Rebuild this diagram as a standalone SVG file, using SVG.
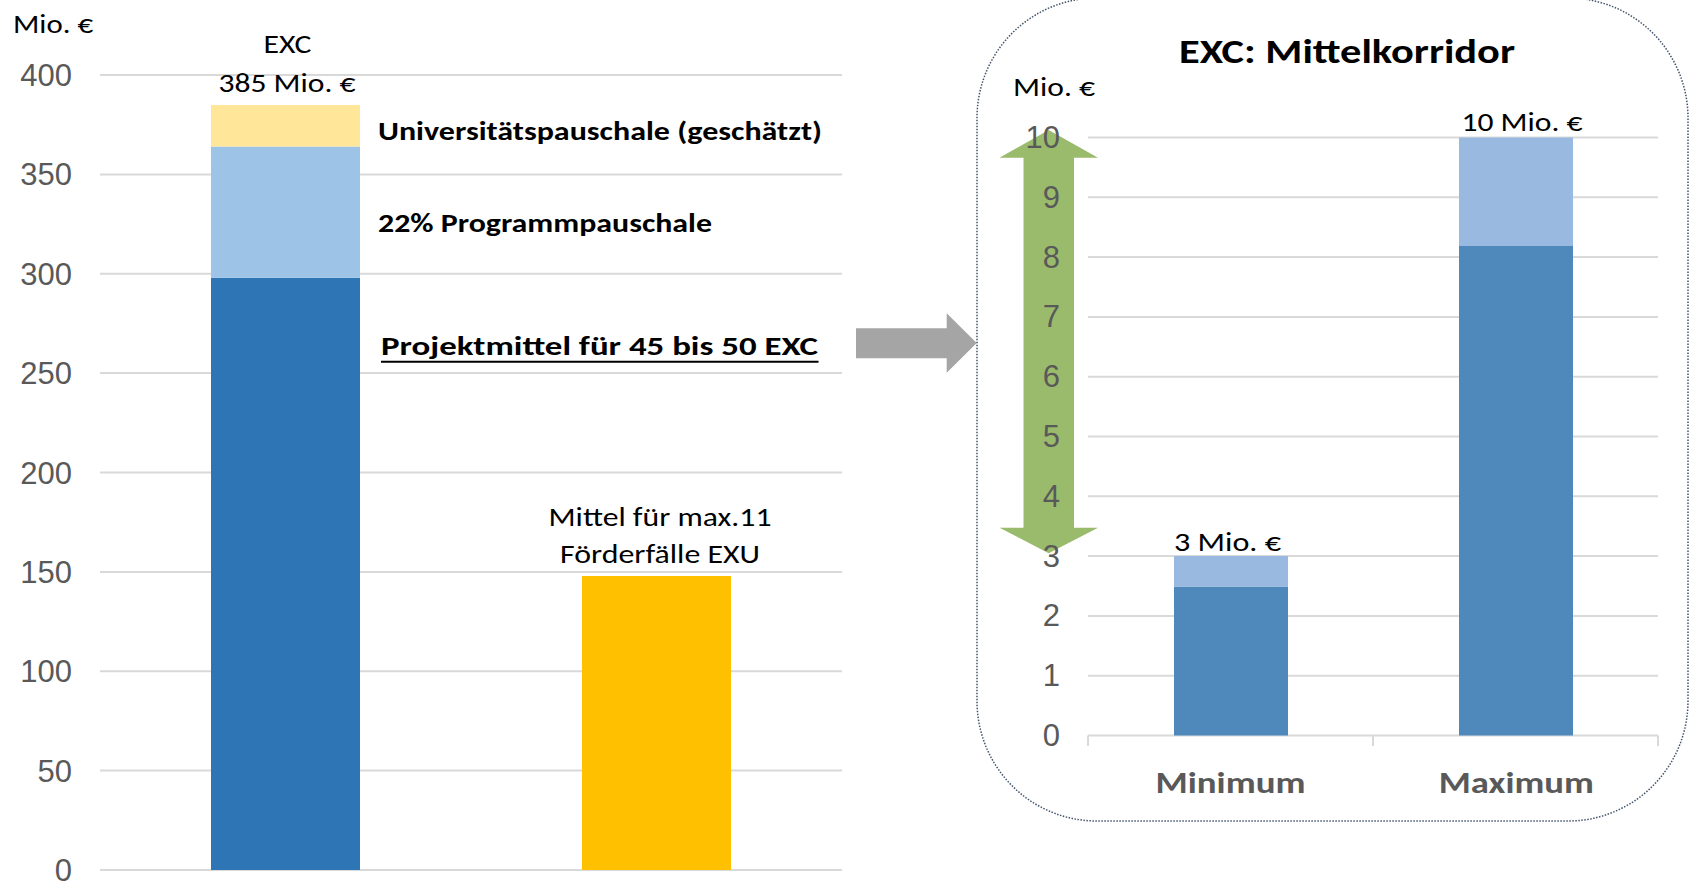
<svg xmlns="http://www.w3.org/2000/svg" width="1690" height="881" viewBox="0 0 1690 881">
  <style>
    .grid { stroke: #D9D9D9; stroke-width: 2; fill: none; }
    .tick { font-family: "Liberation Sans", Arial, sans-serif; font-size: 31px; fill: #595959; text-anchor: end; }
    .lbl { font-family: Carlito, Lato, "Liberation Sans", sans-serif; font-size: 27px; fill: #000000; }
    .lblb { font-family: Carlito, Lato, "Liberation Sans", sans-serif; font-size: 27px; font-weight: bold; fill: #000000; }
    .mid { text-anchor: middle; }
    .cat { font-family: Carlito, Lato, "Liberation Sans", sans-serif; font-size: 30px; font-weight: bold; fill: #595959; text-anchor: middle; }
    .title { font-family: Carlito, Lato, "Liberation Sans", sans-serif; font-size: 35px; font-weight: bold; fill: #000000; text-anchor: middle; }
  </style>
  <rect x="0" y="0" width="1690" height="881" fill="#FFFFFF"/>

  <!-- Left chart: total funding -->
  <g id="left-axis">
    <text class="lbl" x="13" y="33" textLength="80" lengthAdjust="spacingAndGlyphs">Mio. €</text>
    <line class="grid" x1="100" y1="870" x2="842" y2="870"/>
    <line class="grid" x1="100" y1="770.6" x2="842" y2="770.6"/>
    <line class="grid" x1="100" y1="671.3" x2="842" y2="671.3"/>
    <line class="grid" x1="100" y1="571.9" x2="842" y2="571.9"/>
    <line class="grid" x1="100" y1="472.5" x2="842" y2="472.5"/>
    <line class="grid" x1="100" y1="373.1" x2="842" y2="373.1"/>
    <line class="grid" x1="100" y1="273.8" x2="842" y2="273.8"/>
    <line class="grid" x1="100" y1="174.4" x2="842" y2="174.4"/>
    <line class="grid" x1="100" y1="75" x2="842" y2="75"/>
    <text class="tick" x="72" y="881">0</text>
    <text class="tick" x="72" y="781.6">50</text>
    <text class="tick" x="72" y="682.3">100</text>
    <text class="tick" x="72" y="582.9">150</text>
    <text class="tick" x="72" y="483.5">200</text>
    <text class="tick" x="72" y="384.1">250</text>
    <text class="tick" x="72" y="284.8">300</text>
    <text class="tick" x="72" y="185.4">350</text>
    <text class="tick" x="72" y="86">400</text>
  </g>

  <g id="bar-exc">
    <rect x="211" y="277.7" width="149" height="592.3" fill="#2E75B6"/>
    <rect x="211" y="146.5" width="149" height="131.2" fill="#9DC3E6"/>
    <rect x="211" y="105" width="149" height="41.5" fill="#FFE699"/>
    <text class="lbl mid" x="287.5" y="53" textLength="48" lengthAdjust="spacingAndGlyphs">EXC</text>
    <text class="lbl mid" x="287" y="91.5" textLength="137" lengthAdjust="spacingAndGlyphs">385 Mio. €</text>
  </g>

  <g id="exc-parts">
    <text class="lblb" x="378" y="140" textLength="444" lengthAdjust="spacingAndGlyphs">Universitätspauschale (geschätzt)</text>
    <text class="lblb" x="378" y="231.5" textLength="334" lengthAdjust="spacingAndGlyphs">22% Programmpauschale</text>
    <text class="lblb" x="381" y="355" textLength="437" lengthAdjust="spacingAndGlyphs">Projektmittel für 45 bis 50 EXC</text>
    <line x1="381" y1="361.7" x2="818.5" y2="361.7" stroke="#000000" stroke-width="2"/>
  </g>

  <g id="bar-exu">
    <rect x="582" y="576" width="149" height="294" fill="#FFC000"/>
    <text class="lbl mid" x="660" y="525.7" textLength="223" lengthAdjust="spacingAndGlyphs">Mittel für max.11</text>
    <text class="lbl mid" x="660" y="563.3" textLength="200" lengthAdjust="spacingAndGlyphs">Förderfälle EXU</text>
  </g>

  <!-- Link from the project funds to the per-cluster corridor -->
  <g id="connectors">
    <polygon points="856,328.3 946.7,328.3 946.7,313.3 976.7,343 946.7,372.7 946.7,358.3 856,358.3" fill="#A5A5A5"/>
  </g>

  <!-- Right panel: funding corridor per cluster -->
  <g id="corridor-panel">
    <rect x="977" y="-2" width="711" height="823" rx="120" ry="120" fill="none" stroke="#44546A" stroke-width="1.5" stroke-dasharray="1.5 1.5"/>
    <text class="title" x="1347" y="63.3" textLength="336" lengthAdjust="spacingAndGlyphs">EXC: Mittelkorridor</text>
    <text class="lbl" x="1013" y="95.7" textLength="82" lengthAdjust="spacingAndGlyphs">Mio. €</text>

    <line class="grid" x1="1088" y1="675.7" x2="1658" y2="675.7"/>
    <line class="grid" x1="1088" y1="615.9" x2="1658" y2="615.9"/>
    <line class="grid" x1="1088" y1="556.1" x2="1658" y2="556.1"/>
    <line class="grid" x1="1088" y1="496.3" x2="1658" y2="496.3"/>
    <line class="grid" x1="1088" y1="436.5" x2="1658" y2="436.5"/>
    <line class="grid" x1="1088" y1="376.7" x2="1658" y2="376.7"/>
    <line class="grid" x1="1088" y1="316.9" x2="1658" y2="316.9"/>
    <line class="grid" x1="1088" y1="257.1" x2="1658" y2="257.1"/>
    <line class="grid" x1="1088" y1="197.3" x2="1658" y2="197.3"/>
    <line class="grid" x1="1088" y1="137.5" x2="1658" y2="137.5"/>
    <path class="grid" d="M1088,735.5 H1658 M1088,735.5 V746 M1373,735.5 V746 M1658,735.5 V746"/>

    <polygon points="1048.7,130 1098,157.7 1074,157.7 1074,527.7 1098,527.7 1048.7,553.3 999.5,527.7 1023.5,527.7 1023.5,157.7 999.5,157.7" fill="#9BBB6C"/>

    <text class="tick" x="1060" y="746">0</text>
    <text class="tick" x="1060" y="686.2">1</text>
    <text class="tick" x="1060" y="626.4">2</text>
    <text class="tick" x="1060" y="566.6">3</text>
    <text class="tick" x="1060" y="506.8">4</text>
    <text class="tick" x="1060" y="447">5</text>
    <text class="tick" x="1060" y="387.2">6</text>
    <text class="tick" x="1060" y="327.4">7</text>
    <text class="tick" x="1060" y="267.6">8</text>
    <text class="tick" x="1060" y="207.8">9</text>
    <text class="tick" x="1060" y="148">10</text>
  </g>

  <g id="bar-minimum">
    <rect x="1174" y="586.5" width="114" height="149" fill="#4F89BC"/>
    <rect x="1174" y="556" width="114" height="30.5" fill="#99B9E0"/>
    <text class="lbl mid" x="1227.5" y="551" textLength="107" lengthAdjust="spacingAndGlyphs">3 Mio. €</text>
    <text class="cat" x="1230.5" y="793" textLength="150" lengthAdjust="spacingAndGlyphs">Minimum</text>
  </g>

  <g id="bar-maximum">
    <rect x="1459" y="246" width="114" height="489.5" fill="#4F89BC"/>
    <rect x="1459" y="137.5" width="114" height="108.5" fill="#99B9E0"/>
    <text class="lbl mid" x="1522" y="131" textLength="121" lengthAdjust="spacingAndGlyphs">10 Mio. €</text>
    <text class="cat" x="1516.3" y="793" textLength="155" lengthAdjust="spacingAndGlyphs">Maximum</text>
  </g>
</svg>
